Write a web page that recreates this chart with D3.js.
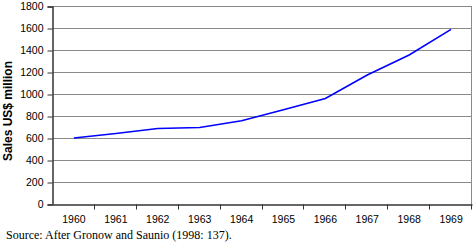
<!DOCTYPE html>
<html>
<head>
<meta charset="utf-8">
<script src="https://cdn.jsdelivr.net/npm/d3@7"></script>
<style>
  body { margin: 0; background: #fff; }
  svg { display: block; }
  .tick text { font-family: "Liberation Sans", Arial, sans-serif; font-size: 10.5px; fill: #000; }
</style>
</head>
<body>
<div id="chart"></div>
<script>
const years = ['1960', '1961', '1962', '1963', '1964', '1965', '1966', '1967', '1968', '1969'];
const sales = [600, 641, 686, 695, 756, 856, 960, 1172, 1355, 1588];
const yTicks = [0, 200, 400, 600, 800, 1000, 1200, 1400, 1600, 1800];
const source = 'Source: After Gronow and Saunio (1998: 137).';

const width = 473;
const height = 244;
const padLeft = 53, padRight = 472, padTop = 6, padBottom = 204;

const svg = d3.select('#chart')
  .append('svg')
  .attr('width', width)
  .attr('height', height);

const xScale = d3.scaleBand()
  .domain(years)
  .range([padLeft, padRight]);

const yScale = d3.scaleLinear()
  .domain([0, 1800])
  .range([padBottom, padTop]);

// gridlines
svg.append('g')
  .selectAll('line')
  .data(yTicks.filter(d => d > 0))
  .enter()
  .append('line')
  .attr('x1', padLeft)
  .attr('x2', padRight)
  .attr('y1', d => Math.round(yScale(d)) + 0.5)
  .attr('y2', d => Math.round(yScale(d)) + 0.5)
  .style('stroke', '#8a8a8a')
  .style('stroke-width', 1);

// right border
svg.append('line')
  .attr('x1', padRight - 0.5).attr('x2', padRight - 0.5)
  .attr('y1', Math.round(yScale(1800)) + 0.5).attr('y2', padBottom)
  .style('stroke', '#8a8a8a');

const yAxis = d3.axisLeft(yScale).tickValues(yTicks).tickFormat(d3.format('d')).tickSize(5).tickPadding(4);
svg.append('g')
  .attr('transform', `translate(${padLeft - 0.5}, 0.5)`)
  .call(yAxis);

const xAxis = d3.axisBottom(xScale).tickSize(0).tickPadding(11);
const xg = svg.append('g')
  .attr('transform', `translate(0, ${padBottom + 0.5})`)
  .call(xAxis);

// tick marks between categories
xg.selectAll('.sep')
  .data(years)
  .enter()
  .append('line')
  .attr('class', 'sep')
  .attr('x1', (d, i) => Math.round(padLeft + xScale.step() * (i + 1)) - 0.5)
  .attr('x2', (d, i) => Math.round(padLeft + xScale.step() * (i + 1)) - 0.5)
  .attr('y1', 0)
  .attr('y2', 5)
  .style('stroke', '#333');

svg.selectAll('.domain').style('stroke', '#333').style('stroke-width', 1.5);
svg.selectAll('.tick line').style('stroke', '#333');

const line = d3.line()
  .x((d, i) => xScale(years[i]) + xScale.bandwidth() / 2)
  .y(d => yScale(d));

svg.append('path')
  .datum(sales)
  .attr('d', line)
  .style('fill', 'none')
  .style('stroke', '#0000ff')
  .style('stroke-width', 1.6);

svg.append('text')
  .attr('transform', 'rotate(-90)')
  .attr('x', -111)
  .attr('y', 12)
  .style('text-anchor', 'middle')
  .style('font-family', '"Liberation Sans", Arial, sans-serif')
  .style('font-weight', 'bold')
  .style('font-size', '12px')
  .text('Sales US$ million');

svg.append('text')
  .attr('x', 6)
  .attr('y', 239)
  .style('font-family', '"Liberation Serif", "Times New Roman", serif')
  .style('font-size', '12px')
  .text(source);
</script>
</body>
</html>
